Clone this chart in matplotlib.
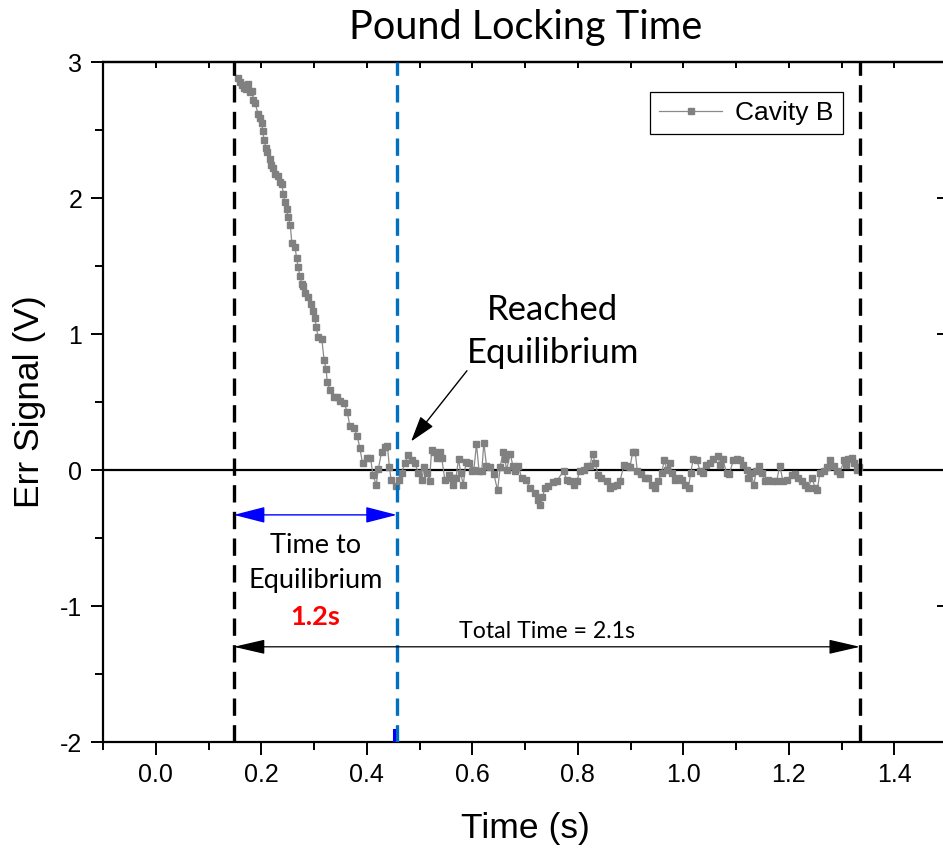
import matplotlib
matplotlib.use("Agg")
import matplotlib.pyplot as plt
from matplotlib.lines import Line2D

# ---------------- data ----------------
time_s = [0.156, 0.160, 0.163, 0.167, 0.171, 0.175, 0.179, 0.183, 0.185, 0.188,
          0.194, 0.198, 0.201, 0.203, 0.205, 0.209, 0.211, 0.217, 0.218, 0.223,
          0.226, 0.232, 0.236, 0.239, 0.242, 0.245, 0.248, 0.251, 0.255, 0.258,
          0.264, 0.267, 0.270, 0.273, 0.277, 0.280, 0.283, 0.289, 0.294, 0.299,
          0.302, 0.304, 0.308, 0.315, 0.319, 0.323, 0.325, 0.330, 0.337, 0.343,
          0.349, 0.357, 0.363, 0.368, 0.376, 0.382, 0.387, 0.392, 0.400, 0.407,
          0.412, 0.418, 0.422, 0.428, 0.435, 0.439, 0.443, 0.446, 0.455, 0.461,
          0.466, 0.472, 0.479, 0.485, 0.491, 0.498, 0.504, 0.509, 0.514, 0.519,
          0.523, 0.528, 0.533, 0.539, 0.542, 0.548, 0.555, 0.561, 0.564, 0.569,
          0.574, 0.578, 0.583, 0.588, 0.594, 0.599, 0.603, 0.608, 0.613, 0.618,
          0.622, 0.627, 0.634, 0.641, 0.648, 0.653, 0.658, 0.662, 0.665, 0.672,
          0.677, 0.681, 0.687, 0.694, 0.702, 0.709, 0.719, 0.725, 0.728, 0.733,
          0.738, 0.744, 0.754, 0.760, 0.773, 0.779, 0.785, 0.792, 0.798, 0.804,
          0.811, 0.817, 0.823, 0.828, 0.833, 0.839, 0.845, 0.855, 0.861, 0.867,
          0.874, 0.880, 0.888, 0.893, 0.899, 0.904, 0.909, 0.913, 0.919, 0.927,
          0.934, 0.940, 0.946, 0.953, 0.959, 0.964, 0.969, 0.974, 0.978, 0.984,
          0.991, 0.997, 1.003, 1.010, 1.014, 1.019, 1.026, 1.032, 1.038, 1.043,
          1.051, 1.057, 1.065, 1.070, 1.075, 1.082, 1.087, 1.095, 1.101, 1.108,
          1.114, 1.120, 1.123, 1.128, 1.134, 1.138, 1.144, 1.149, 1.155, 1.161,
          1.168, 1.177, 1.183, 1.189, 1.196, 1.206, 1.212, 1.218, 1.225, 1.231,
          1.237, 1.244, 1.250, 1.254, 1.259, 1.266, 1.272, 1.278, 1.285, 1.291,
          1.297, 1.304, 1.309, 1.313, 1.319, 1.324, 1.329, 1.334]
err_signal = [2.88, 2.85, 2.83, 2.81, 2.80, 2.84, 2.78, 2.79, 2.72, 2.70,
              2.62, 2.59, 2.55, 2.49, 2.43, 2.37, 2.34, 2.29, 2.24, 2.22,
              2.18, 2.16, 2.12, 2.10, 2.03, 1.97, 1.92, 1.86, 1.80, 1.67,
              1.64, 1.56, 1.49, 1.43, 1.37, 1.35, 1.30, 1.27, 1.22, 1.17,
              1.12, 1.05, 0.98, 0.96, 0.81, 0.74, 0.65, 0.59, 0.54, 0.54,
              0.51, 0.49, 0.43, 0.32, 0.31, 0.25, 0.16, 0.05, 0.09, 0.09,
              -0.04, -0.11, 0.01, 0.13, 0.17, 0.18, 0.02, -0.07, -0.12, -0.07,
              -0.02, 0.05, 0.11, 0.07, 0.05, -0.02, -0.07, 0.02, -0.02, -0.08,
              0.15, 0.13, 0.09, 0.13, 0.09, -0.07, -0.04, -0.06, -0.11, -0.06,
              0.08, -0.02, -0.11, 0.06, 0.05, -0.01, 0.00, 0.19, -0.01, -0.01,
              0.20, 0.03, 0.02, -0.03, -0.15, 0.02, 0.13, 0.08, 0.00, 0.12,
              0.03, -0.01, 0.03, -0.06, -0.07, -0.13, -0.17, -0.22, -0.26, -0.20,
              -0.13, -0.12, -0.09, -0.08, -0.01, -0.07, -0.08, -0.11, -0.08, -0.01,
              0.00, 0.03, 0.03, 0.12, 0.05, -0.04, -0.06, -0.08, -0.13, -0.12,
              -0.11, -0.08, 0.04, 0.03, 0.02, 0.13, 0.13, -0.01, -0.03, -0.06,
              -0.06, -0.11, -0.13, -0.08, -0.02, 0.07, 0.00, 0.05, -0.02, -0.07,
              -0.06, -0.07, -0.11, -0.13, -0.02, 0.08, 0.07, -0.01, -0.02, 0.04,
              0.05, 0.08, 0.10, 0.04, 0.08, -0.02, -0.03, 0.07, 0.08, 0.07,
              0.04, 0.00, -0.06, -0.02, -0.11, -0.01, 0.03, -0.02, -0.08, -0.07,
              -0.08, -0.08, 0.03, -0.08, -0.07, -0.04, -0.03, -0.06, -0.08, -0.11,
              -0.13, -0.06, -0.13, -0.15, -0.02, -0.01, 0.02, 0.07, 0.03, -0.01,
              -0.03, 0.07, 0.04, 0.08, 0.09, 0.05, 0.00, 0.02]

series_label = "Cavity B"
lock_start = 0.148
equilibrium_time = 0.457
lock_end = 1.335
x_ticks = [0.0, 0.2, 0.4, 0.6, 0.8, 1.0, 1.2, 1.4]
y_ticks = [-2, -1, 0, 1, 2, 3]

# ---------------- figure ----------------
W, H = 943, 851
fig = plt.figure(figsize=(W / 100, H / 100), dpi=100)
ax = fig.add_axes([103 / W, 1 - 742 / H, (947 - 103) / W, 680 / H])

ax.set_xlim(-0.1, 1.5)
ax.set_ylim(-2, 3)

ax.axhline(0, color="black", lw=1.6, zorder=2)

ax.plot(time_s, err_signal, color="#8a8a8a", lw=0.9, marker="s", ms=3.8,
        mfc="#808080", mec="#808080", zorder=3, label=series_label)

dash_kw = dict(lw=2.4, dashes=(5.2, 2.8), zorder=4)
ax.plot([lock_start, lock_start], [-2, 3], color="black", **dash_kw)
ax.plot([lock_end, lock_end], [-2, 3], color="black", **dash_kw)
ax.plot([equilibrium_time, equilibrium_time], [-2, 3], color="#0070C0", **dash_kw)
ax.plot([equilibrium_time - 0.005, equilibrium_time - 0.005], [-2, -1.91],
        color="#0000FF", lw=2.2, zorder=4)

# arrows
ax.annotate("", xy=(lock_start, -0.33), xytext=(equilibrium_time, -0.33),
            arrowprops=dict(arrowstyle="<|-|>,head_length=1.95,head_width=0.5",
                            mutation_scale=10, color="#0000FF", lw=1.0,
                            shrinkA=0, shrinkB=0), zorder=5)
ax.annotate("", xy=(lock_start, -1.3), xytext=(lock_end, -1.3),
            arrowprops=dict(arrowstyle="<|-|>,head_length=1.95,head_width=0.45",
                            mutation_scale=10, color="black", lw=0.9,
                            shrinkA=0, shrinkB=0), zorder=5)
ax.annotate("", xy=(0.484, 0.21), xytext=(0.590, 0.73),
            arrowprops=dict(arrowstyle="-|>,head_length=1.6,head_width=0.5",
                            mutation_scale=10, color="black", lw=1.0,
                            shrinkA=0, shrinkB=0), zorder=5)

cal = ["Lato", "DejaVu Sans"]
ax.text(0.753, 1.10, "Reached", ha="center", va="baseline",
        fontsize=25, family=cal)
ax.text(0.753, 0.785, "Equilibrium", ha="center", va="baseline",
        fontsize=25, family=cal)
ax.text(0.3025, -0.61, "Time to", ha="center", va="baseline",
        fontsize=19.5, family=cal)
ax.text(0.3025, -0.87, "Equilibrium", ha="center", va="baseline",
        fontsize=19.5, family=cal)
ax.text(0.3025, -1.14, "1.2s", ha="center", va="baseline", fontsize=19.5,
        family=cal, color="#FF0000", fontweight="bold")
ax.text(0.7415, -1.235, "Total Time = 2.1s", ha="center", va="baseline",
        fontsize=16.7, family=cal)

fig.text(526 / W, 1 - 27 / H, "Pound Locking Time", ha="center", va="center",
         fontsize=28.5, family=cal)

arial = ["Liberation Sans", "DejaVu Sans"]
ax.set_xlabel("Time (s)", fontsize=25.5, family=arial, labelpad=18)
ax.set_ylabel("Err Signal (V)", fontsize=25.5, family=arial, labelpad=10)

ax.set_xticks(x_ticks)
ax.set_xticklabels([f"{v:.1f}" for v in x_ticks])
ax.set_yticks(y_ticks)
ax.set_yticklabels([str(v) for v in y_ticks])
ax.set_xticks([-0.1, 0.1, 0.3, 0.5, 0.7, 0.9, 1.1, 1.3, 1.5], minor=True)
ax.set_yticks([-1.5, -0.5, 0.5, 1.5, 2.5], minor=True)
for lab in ax.get_xticklabels() + ax.get_yticklabels():
    lab.set_family(arial)
    lab.set_fontsize(18)

ax.tick_params(which="major", direction="out", length=9, width=1.4, pad=6,
               top=False, right=False)
ax.tick_params(which="minor", direction="out", length=5.5, width=1.4,
               top=False, right=False)
for s in ax.spines.values():
    s.set_linewidth(1.6)

sec_x = ax.secondary_xaxis("top")
sec_x.set_xticks(x_ticks)
sec_x.set_xticks([-0.1, 0.1, 0.3, 0.5, 0.7, 0.9, 1.1, 1.3, 1.5], minor=True)
sec_x.tick_params(which="both", direction="in", length=4.5, width=1.4,
                  labeltop=False)
sec_x.spines["top"].set_linewidth(1.6)

sec_y = ax.secondary_yaxis("right")
sec_y.set_yticks(y_ticks)
sec_y.set_yticks([-1.5, -0.5, 0.5, 1.5, 2.5], minor=True)
sec_y.tick_params(which="major", direction="in", length=7, width=1.4,
                  labelright=False)
sec_y.tick_params(which="minor", direction="in", length=1.5, width=1.4,
                  labelright=False)

handle = Line2D([], [], color="#8a8a8a", lw=0.9, marker="s", ms=3.8,
                mfc="#808080", mec="#808080")
leg = ax.legend([handle], [series_label], loc="upper right",
                bbox_to_anchor=(843 / W, 1 - 92 / H),
                bbox_transform=fig.transFigure, fancybox=False,
                edgecolor="black", framealpha=1, handlelength=2.4,
                borderpad=0.35, handletextpad=0.5, borderaxespad=0,
                prop={"family": arial, "size": 19})
leg.get_frame().set_linewidth(0.9)

fig.savefig("out.png", dpi=100)
